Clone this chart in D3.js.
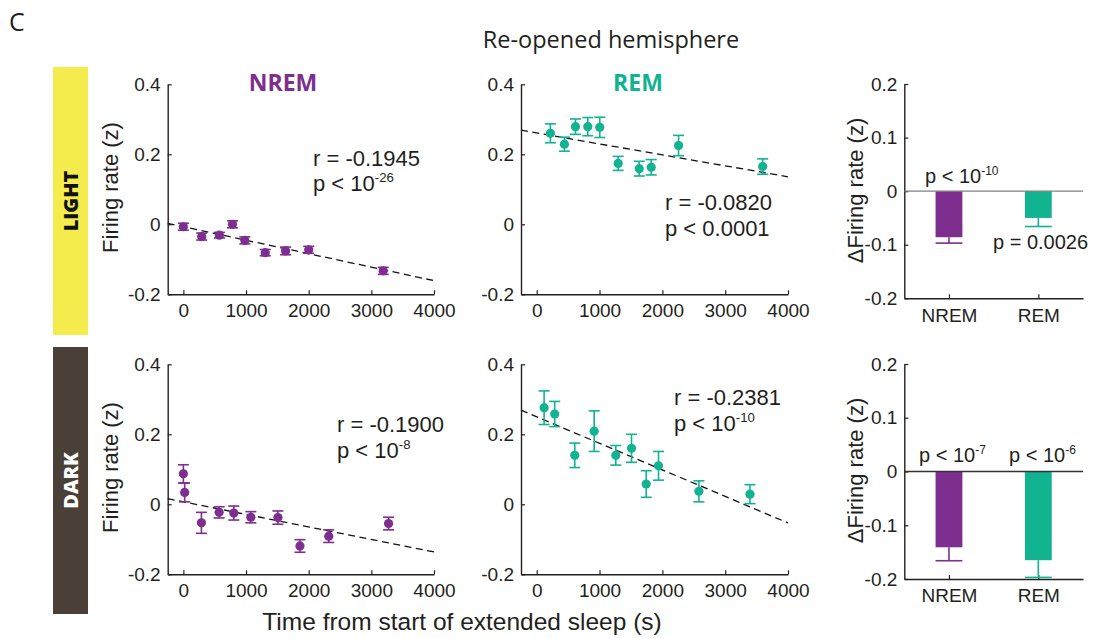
<!DOCTYPE html>
<html>
<head>
<meta charset="utf-8">
<script src="https://cdn.jsdelivr.net/npm/d3@7"></script>
<style>
  html, body { margin: 0; padding: 0; background: #fff; }
  svg { display: block; }
</style>
</head>
<body>
<svg id="fig" width="1093" height="638"></svg>
<script>
// ---- data ----
const xTicks = [0, 1000, 2000, 3000, 4000];
const yTicksScatter = [-0.2, 0, 0.2, 0.4];
const yTicksBar = [-0.2, -0.1, 0, 0.1, 0.2];
const stages = ["NREM", "REM"];

// LIGHT, NREM
const timeNremLight = [0, 293, 576, 784, 981, 1307, 1632, 2000, 3189];
const rateNremLight = [-0.007, -0.035, -0.031, 0.000, -0.046, -0.081, -0.076, -0.073, -0.133];
const semNremLight  = [0.010, 0.010, 0.008, 0.010, 0.010, 0.009, 0.011, 0.010, 0.010];
// LIGHT, REM
const timeRemLight = [218, 441, 617, 813, 1004, 1297, 1632, 1823, 2258, 3597];
const rateRemLight = [0.260, 0.229, 0.279, 0.279, 0.277, 0.174, 0.159, 0.163, 0.225, 0.165];
const semRemLight  = [0.027, 0.020, 0.022, 0.026, 0.029, 0.020, 0.021, 0.022, 0.029, 0.022];
// DARK, NREM
const timeNremDark = [0, 21, 288, 571, 805, 1077, 1509, 1861, 2320, 3275];
const rateNremDark = [0.087, 0.034, -0.053, -0.023, -0.025, -0.037, -0.038, -0.119, -0.091, -0.055];
const semNremDark  = [0.026, 0.027, 0.030, 0.016, 0.020, 0.016, 0.019, 0.018, 0.018, 0.018];
// DARK, REM
const timeRemDark = [118, 287, 606, 915, 1259, 1509, 1743, 1939, 2582, 3395];
const rateRemDark = [0.276, 0.258, 0.140, 0.209, 0.140, 0.160, 0.058, 0.110, 0.037, 0.029];
const semRemDark  = [0.048, 0.036, 0.035, 0.058, 0.028, 0.040, 0.038, 0.041, 0.030, 0.027];

// linear fits: [intercept, slope per s]
const fitNremLight = [-0.007, -3.85e-5];
const fitRemLight  = [0.261, -3.13e-5];
const fitNremDark  = [0.007, -3.58e-5];
const fitRemDark   = [0.250, -7.58e-5];

// change in firing rate per stage
const deltaLight = [-0.086, -0.050];
const deltaLightSem = [0.011, 0.016];
const deltaDark = [-0.141, -0.165];
const deltaDarkSem = [0.025, 0.032];

// ---- styling ----
const PURPLE = "#7d2e8e";
const TEAL = "#11b391";
const INK = "#231f20";
const NUM_FONT = "'Liberation Sans', Arial, sans-serif";
const HEAD_FONT = "'Open Sans', 'Noto Sans', sans-serif";

// plain hyphen for negatives
const fmtTick = d => d === 0 ? "0" : d3.format(".1f")(d).replace("\u2212", "-");

const svg = d3.select("#fig");

// panel letter and title
svg.append("text").attr("x", 9).attr("y", 31)
  .attr("font-family", HEAD_FONT).attr("font-size", 25).attr("fill", INK).text("C");
svg.append("text").attr("x", 611).attr("y", 48).attr("text-anchor", "middle")
  .attr("font-family", HEAD_FONT).attr("font-size", 23.5).attr("fill", INK).text("Re-opened hemisphere");

// LIGHT / DARK side bands
function band(y0, y1, fill, label, color) {
  svg.append("rect").attr("x", 53).attr("y", y0).attr("width", 35).attr("height", y1 - y0).attr("fill", fill);
  svg.append("text")
    .attr("transform", `translate(78,${(y0 + y1) / 2}) rotate(-90)`)
    .attr("text-anchor", "middle")
    .attr("font-family", HEAD_FONT).attr("font-weight", 800).attr("font-size", 20)
    .attr("fill", color).text(label);
}
band(67, 335, "#f4ec4c", "LIGHT", "#111");
band(347, 614, "#4a4037", "DARK", "#fff");

function styleAxis(g) {
  g.selectAll("path.domain").attr("stroke", INK).attr("stroke-width", 1.4);
  g.selectAll(".tick line").attr("stroke", INK).attr("stroke-width", 1.2);
  g.selectAll(".tick text").attr("font-family", NUM_FONT).attr("font-size", 19).attr("fill", INK);
}

function statText(x, y, fs, parts) {
  // parts: array of [text, isSuperscript]
  const t = svg.append("text").attr("x", x).attr("y", y)
    .attr("font-family", NUM_FONT).attr("font-size", fs).attr("fill", INK);
  parts.forEach(([s, sup]) => {
    const ts = t.append("tspan").text(s);
    if (sup) ts.attr("font-size", fs * 0.6).attr("dy", -fs * 0.42);
  });
  return t;
}

function yLabel(x, yc, text) {
  svg.append("text")
    .attr("transform", `translate(${x},${yc}) rotate(-90)`)
    .attr("text-anchor", "middle")
    .attr("font-family", NUM_FONT).attr("font-size", 22).attr("fill", INK)
    .text(text);
}

// scatter panel with error bars and dashed fit line
function scatterPanel(opt) {
  const x = d3.scaleLinear().domain([-250, 4000]).range(opt.xr);
  const y = d3.scaleLinear().domain([-0.2, 0.4]).range(opt.yr);
  const g = svg.append("g");

  const gx = g.append("g").attr("transform", `translate(0,${opt.yr[0]})`)
    .call(d3.axisBottom(x).tickValues(xTicks).tickSizeInner(-4).tickSizeOuter(0).tickPadding(9)
      .tickFormat(d3.format("d")));
  styleAxis(gx);
  const gy = g.append("g").attr("transform", `translate(${opt.xr[0]},0)`)
    .call(d3.axisLeft(y).tickValues(yTicksScatter).tickSizeInner(-4).tickSizeOuter(0).tickPadding(7)
      .tickFormat(fmtTick));
  styleAxis(gy);

  // fit line across the whole axis
  const [b0, b1] = opt.fit;
  const xd = x.domain();
  g.append("line")
    .attr("x1", x(xd[0])).attr("y1", y(b0 + b1 * xd[0]))
    .attr("x2", x(xd[1])).attr("y2", y(b0 + b1 * xd[1]))
    .attr("stroke", "#111").attr("stroke-width", 1.3).attr("stroke-dasharray", "7,4.5");

  const pts = opt.time.map((t, i) => ({ t, v: opt.rate[i], e: opt.sem[i] }));
  const eb = g.append("g").attr("stroke", opt.color).attr("stroke-width", 1.6);
  pts.forEach(p => {
    const cx = x(p.t);
    eb.append("line").attr("x1", cx).attr("x2", cx).attr("y1", y(p.v - p.e)).attr("y2", y(p.v + p.e));
    eb.append("line").attr("x1", cx - 5.5).attr("x2", cx + 5.5).attr("y1", y(p.v - p.e)).attr("y2", y(p.v - p.e));
    eb.append("line").attr("x1", cx - 5.5).attr("x2", cx + 5.5).attr("y1", y(p.v + p.e)).attr("y2", y(p.v + p.e));
  });
  g.append("g").selectAll("circle").data(pts).join("circle")
    .attr("cx", d => x(d.t)).attr("cy", d => y(d.v)).attr("r", 4.6).attr("fill", opt.color);
}

// bar panel of mean change with downward error bars
function barPanel(opt) {
  const x = d3.scaleLinear().domain([0.5, 2.5]).range(opt.xr);
  const y = d3.scaleLinear().domain([-0.2, 0.2]).range(opt.yr);
  const g = svg.append("g");
  const colors = [PURPLE, TEAL];
  const bw = x(1.15) - x(0.85);

  const gx = g.append("g").attr("transform", `translate(0,${opt.yr[0]})`)
    .call(d3.axisBottom(x).tickValues([1, 2]).tickSizeInner(-4).tickSizeOuter(0).tickPadding(10)
      .tickFormat((d, i) => stages[i]));
  styleAxis(gx);
  const gy = g.append("g").attr("transform", `translate(${opt.xr[0]},0)`)
    .call(d3.axisLeft(y).tickValues(yTicksBar).tickSizeInner(-4).tickSizeOuter(0).tickPadding(7)
      .tickFormat(fmtTick));
  styleAxis(gy);

  opt.vals.forEach((v, i) => {
    const cx = x(i + 1);
    const e = opt.sem[i];
    g.append("line").attr("x1", cx).attr("x2", cx).attr("y1", y(v)).attr("y2", y(v - e))
      .attr("stroke", colors[i]).attr("stroke-width", 1.6);
    g.append("line").attr("x1", cx - bw / 2).attr("x2", cx + bw / 2).attr("y1", y(v - e)).attr("y2", y(v - e))
      .attr("stroke", colors[i]).attr("stroke-width", 1.6);
    g.append("rect").attr("x", cx - bw / 2).attr("width", bw)
      .attr("y", y(0)).attr("height", y(v) - y(0)).attr("fill", colors[i]);
  });
  g.append("line").attr("x1", opt.xr[0]).attr("x2", opt.xr[1]).attr("y1", y(0)).attr("y2", y(0))
    .attr("stroke", opt.zeroColor).attr("stroke-width", 1.3);
}

// ---- top row: LIGHT ----
scatterPanel({ xr: [167.7, 434], yr: [294.3, 84.3], time: timeNremLight, rate: rateNremLight, sem: semNremLight, fit: fitNremLight, color: PURPLE });
scatterPanel({ xr: [521, 788], yr: [294.3, 84.3], time: timeRemLight, rate: rateRemLight, sem: semRemLight, fit: fitRemLight, color: TEAL });
barPanel({ xr: [904.3, 1083], yr: [298.3, 84], vals: deltaLight, sem: deltaLightSem, zeroColor: "#808080" });

// ---- bottom row: DARK ----
scatterPanel({ xr: [167.7, 434], yr: [574.3, 364.3], time: timeNremDark, rate: rateNremDark, sem: semNremDark, fit: fitNremDark, color: PURPLE });
scatterPanel({ xr: [521, 788], yr: [574.3, 364.3], time: timeRemDark, rate: rateRemDark, sem: semRemDark, fit: fitRemDark, color: TEAL });
barPanel({ xr: [904.3, 1083], yr: [579, 364], vals: deltaDark, sem: deltaDarkSem, zeroColor: "#333" });

// column headings
svg.append("text").attr("x", 283).attr("y", 91).attr("text-anchor", "middle")
  .attr("font-family", HEAD_FONT).attr("font-weight", 700).attr("font-size", 23).attr("fill", PURPLE).text("NREM");
svg.append("text").attr("x", 638).attr("y", 91).attr("text-anchor", "middle")
  .attr("font-family", HEAD_FONT).attr("font-weight", 700).attr("font-size", 23).attr("fill", TEAL).text("REM");

// axis titles
yLabel(118, 187.5, "Firing rate (z)");
yLabel(118, 467.5, "Firing rate (z)");
yLabel(863, 190.5, "\u0394Firing rate (z)");
yLabel(863, 470.5, "\u0394Firing rate (z)");
svg.append("text").attr("x", 462).attr("y", 630).attr("text-anchor", "middle")
  .attr("font-family", NUM_FONT).attr("font-size", 24.5).attr("fill", INK)
  .text("Time from start of extended sleep (s)");

// correlation statistics
statText(313, 166, 22, [["r = -0.1945", false]]);
statText(313, 191, 22, [["p < 10", false], ["-26", true]]);
statText(665, 210, 22, [["r = -0.0820", false]]);
statText(665, 236, 22, [["p < 0.0001", false]]);
statText(337, 432, 22, [["r = -0.1900", false]]);
statText(337, 458, 22, [["p < 10", false], ["-8", true]]);
statText(674, 405, 22, [["r = -0.2381", false]]);
statText(674, 431, 22, [["p < 10", false], ["-10", true]]);

// bar significance
statText(925, 183, 20, [["p < 10", false], ["-10", true]]);
statText(993, 249, 20, [["p = 0.0026", false]]);
statText(919, 462, 20, [["p < 10", false], ["-7", true]]);
statText(1009, 462, 20, [["p < 10", false], ["-6", true]]);
</script>
</body>
</html>
